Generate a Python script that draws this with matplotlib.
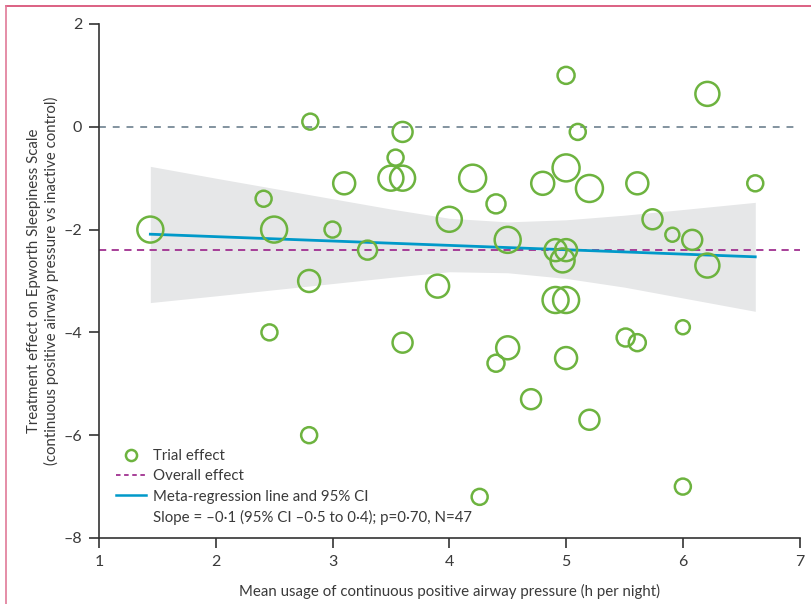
import numpy as np
import matplotlib.pyplot as plt
from matplotlib.lines import Line2D

# trial-level data: mean CPAP usage (h/night), treatment effect on ESS, relative weight
usage = [1.44, 2.41, 2.50, 2.46, 2.81, 2.80, 2.80, 3.00, 3.10, 3.30,
         3.54, 3.50, 3.60, 3.60, 3.60, 3.90, 4.00, 4.20, 4.40, 4.40,
         4.50, 4.50, 4.70, 4.26, 4.80, 5.00, 5.10, 5.00, 5.20, 4.91,
         5.00, 4.97, 4.91, 5.00, 5.00, 5.20, 5.51, 5.61, 5.61, 5.74,
         5.91, 6.08, 6.21, 6.21, 6.00, 6.00, 6.62]
effect = [-2.0, -1.4, -2.0, -4.0, 0.1, -3.0, -6.0, -2.0, -1.1, -2.4,
          -0.6, -1.0, -1.0, -0.1, -4.2, -3.1, -1.8, -1.0, -1.5, -4.6,
          -2.2, -4.3, -5.3, -7.2, -1.1, 1.0, -0.1, -0.8, -1.2, -2.4,
          -2.4, -2.6, -3.37, -3.37, -4.5, -5.7, -4.1, -4.2, -1.1, -1.8,
          -2.1, -2.2, -2.7, 0.64, -3.9, -7.0, -1.1]
weight = [13, 8, 13, 8, 8, 11, 8, 8, 11, 9.5,
          8, 12.5, 12.5, 10, 10, 11.5, 12.5, 13.5, 9.5, 8.5,
          13, 11.5, 10, 8, 11.5, 8.5, 8, 13.5, 13.5, 11,
          11, 12, 13, 13, 11, 10, 9, 8.5, 11, 10,
          7, 10, 12, 12, 7, 8, 8]

overall = -2.4

# meta-regression line and 95% CI band
reg_x = [1.44, 6.62]
reg_y = [-2.09, -2.53]
band_x = [1.44, 2.0, 2.5, 3.0, 3.5, 4.0, 4.5, 5.0, 5.5, 6.0, 6.62]
band_hi = [-0.77, -1.00, -1.20, -1.40, -1.60, -1.78, -1.85, -1.81, -1.72, -1.61, -1.47]
band_lo = [-3.42, -3.29, -3.17, -3.05, -2.93, -2.82, -2.84, -2.95, -3.12, -3.33, -3.59]

green = '#6db33f'
blue = '#0099c9'
purple = '#a03090'
txt = '#3a3a3a'

plt.rcParams['font.family'] = ['Lato', 'DejaVu Sans']
fs = 10.8

fig = plt.figure(figsize=(8.11, 6.04), dpi=100)
ax = fig.add_axes([0.122, 0.1093, 0.864, 0.851])

ax.fill_between(band_x, band_lo, band_hi, color='#e6e7e8', lw=0, zorder=1)
ax.axhline(0, color='#607585', lw=1.1, ls=(0, (4.5, 4.5)), zorder=2)
ax.axhline(overall, color=purple, lw=1.3, ls=(0, (4, 3)), zorder=2)
ax.plot(reg_x, reg_y, color=blue, lw=2, zorder=3)

s = (2 * np.array(weight) * 0.72) ** 2
ax.scatter(usage, effect, s=s, facecolors='none', edgecolors=green,
           linewidths=1.8, zorder=4)

ax.set_xlim(1, 7)
ax.set_ylim(-8, 2)
ax.set_xticks(range(1, 8))
ax.set_yticks([-8, -6, -4, -2, 0, 2])
ax.set_yticklabels(['–8', '–6', '–4', '–2', '0', '2'])
for sp in ['top', 'right']:
    ax.spines[sp].set_visible(False)
for sp in ['left', 'bottom']:
    ax.spines[sp].set_color('#333333')
    ax.spines[sp].set_linewidth(1.2)
ax.tick_params(length=7, width=1.2, color='#333333', labelsize=11.5,
               labelcolor=txt, pad=5)

ax.set_xlabel('Mean usage of continuous positive airway pressure (h per night)',
              fontsize=fs, color=txt, labelpad=11)
ax.set_ylabel('Treatment effect on Epworth Sleepiness Scale\n'
              '(continuous positive airway pressure vs inactive control)',
              fontsize=fs, color=txt, labelpad=3, linespacing=1.25)

handles = [
    Line2D([], [], ls='none', marker='o', ms=8, mfc='none', mec=green, mew=1.8),
    Line2D([], [], color=purple, lw=1.3, ls=(0, (2.5, 2))),
    Line2D([], [], color=blue, lw=1.8),
    Line2D([], [], color='none'),
]
labels = ['Trial effect', 'Overall effect', 'Meta-regression line and 95% CI',
          'Slope = –0·1 (95% CI –0·5 to 0·4); p=0·70, N=47']
ax.legend(handles, labels, loc='lower left', bbox_to_anchor=(0.01, 0.005),
          frameon=False, fontsize=fs, labelcolor=txt, handlelength=2.0,
          handletextpad=0.45, labelspacing=0.42, borderaxespad=0.3)

# page frame lines
fig.add_artist(Line2D([0.008, 1.0], [0.99, 0.99], color='#d6456e', lw=1.2))
fig.add_artist(Line2D([0.008, 0.008], [0.0, 0.99], color='#e07a98', lw=1.2))

fig.savefig('out.png', dpi=100)
